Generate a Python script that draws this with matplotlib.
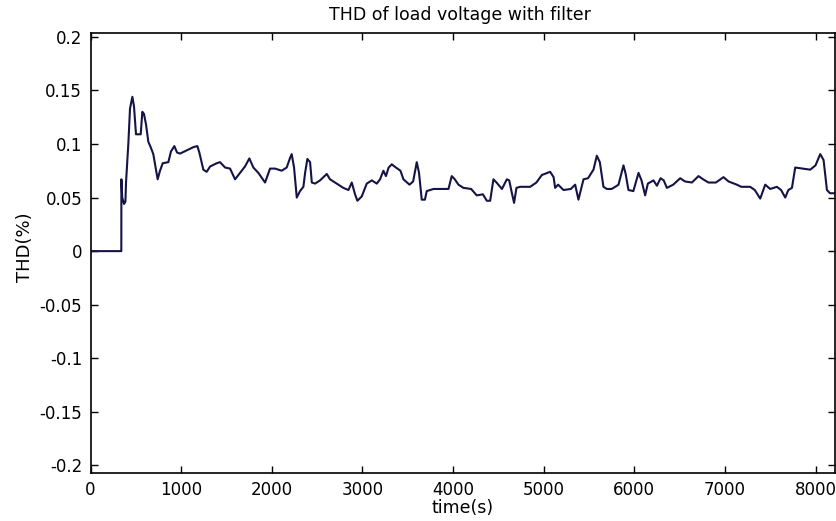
import matplotlib
matplotlib.use("Agg")
import matplotlib.pyplot as plt
from matplotlib.ticker import FormatStrFormatter, FuncFormatter

# ---- data ----
time_s = [0, 340, 341, 350, 370, 385, 392, 418, 436, 462, 480, 502, 554, 572, 590,
          613, 638, 664, 693, 719, 741, 767, 797, 859, 888, 925, 955, 988, 1061, 1135,
          1179, 1201, 1245, 1282, 1320, 1393, 1429, 1485, 1540, 1595, 1650, 1705, 1753,
          1797, 1852, 1926, 1981, 2037, 2110, 2165, 2202, 2220, 2246, 2276, 2312, 2349,
          2368, 2393, 2423, 2442, 2478, 2533, 2607, 2643, 2717, 2790, 2846, 2883, 2919,
          2945, 2993, 3048, 3104, 3159, 3195,
          3232, 3260, 3290, 3324, 3370, 3420, 3453, 3520, 3560, 3600, 3625, 3655, 3690,
          3710, 3784, 3950, 3986, 4020, 4060, 4115, 4200, 4262, 4330, 4373, 4410, 4446,
          4480, 4540, 4594, 4620, 4650, 4674, 4700, 4740, 4851, 4920, 4980, 5072, 5110,
          5127, 5160, 5219, 5300, 5348, 5384, 5440, 5490, 5550, 5587, 5620, 5660,
          5697, 5750, 5790, 5826, 5881, 5905, 5936, 5990, 6047, 6080, 6120, 6150, 6212,
          6250, 6290, 6325, 6360, 6430, 6507, 6560, 6636, 6709, 6760, 6819, 6900, 6985,
          7040, 7132, 7180, 7279, 7330, 7390, 7445, 7500, 7574, 7620, 7666, 7700, 7740,
          7776, 7860, 7942, 8000, 8052, 8089, 8126, 8160, 8210]
thd = [0, 0, 0.067, 0.050, 0.044, 0.046, 0.064, 0.101, 0.133, 0.144, 0.135, 0.109, 0.109,
       0.130, 0.128, 0.118, 0.102, 0.097, 0.0905, 0.078, 0.067, 0.075, 0.082, 0.083,
       0.093, 0.098, 0.092, 0.091, 0.094, 0.097, 0.098, 0.092, 0.076, 0.074, 0.079,
       0.082, 0.083, 0.078, 0.077, 0.067, 0.073, 0.079, 0.0865, 0.078, 0.073, 0.064,
       0.077, 0.077, 0.075, 0.078, 0.087, 0.0905, 0.078, 0.050, 0.056, 0.060, 0.073,
       0.086, 0.083, 0.064, 0.063, 0.066, 0.072, 0.067, 0.063, 0.059, 0.057, 0.064,
       0.053, 0.047, 0.051, 0.063, 0.066, 0.063, 0.067,
       0.075, 0.070, 0.078, 0.081, 0.078, 0.075, 0.067, 0.062, 0.065, 0.083, 0.073,
       0.048, 0.048, 0.056, 0.058, 0.058, 0.070, 0.067, 0.062, 0.059, 0.058, 0.052,
       0.053, 0.047, 0.047, 0.067, 0.064, 0.058, 0.067, 0.066, 0.054, 0.045, 0.059,
       0.060, 0.060, 0.064, 0.071, 0.074, 0.069, 0.059, 0.062, 0.057, 0.058, 0.062,
       0.048, 0.067, 0.068, 0.076, 0.089, 0.083, 0.060,
       0.058, 0.058, 0.060, 0.062, 0.080, 0.072, 0.057, 0.056, 0.073, 0.066, 0.052,
       0.063, 0.066, 0.061, 0.068, 0.066, 0.059, 0.062, 0.068, 0.065, 0.064, 0.070,
       0.067, 0.064, 0.064, 0.069, 0.065, 0.062, 0.060, 0.060, 0.057, 0.049, 0.062,
       0.058, 0.060, 0.057, 0.050, 0.057, 0.059, 0.078, 0.077, 0.076, 0.080, 0.0905,
       0.085, 0.057, 0.054, 0.054]

x_ticks = [0, 1000, 2000, 3000, 4000, 5000, 6000, 7000, 8000]
y_ticks = [-0.2, -0.15, -0.1, -0.05, 0, 0.05, 0.1, 0.15, 0.2]

title_text = "THD of load voltage with filter"
x_label = "time(s)"
y_label = "THD(%)"

plt.rcParams['font.family'] = ['DejaVu Sans']

W, H = 836, 521
fig = plt.figure(figsize=(W / 100, H / 100), dpi=100)
fig.patch.set_facecolor('white')

left, right, top, bottom = 90.5, 835, 33, 473
ax = fig.add_axes([left / W, 1 - bottom / H, (right - left) / W, (bottom - top) / H])

ax.plot(time_s, thd, color='#141446', lw=1.5)

ax.set_xlim(0, 8215)
ax.set_ylim(-0.207, 0.2035)
ax.set_xticks(x_ticks)
ax.set_yticks(y_ticks)
ax.yaxis.set_major_formatter(FuncFormatter(lambda v, p: ('%g' % round(v, 3))))
ax.tick_params(direction='in', length=5, width=1, top=True, right=True,
               labelsize=12, colors='black', pad=6)
for s in ax.spines.values():
    s.set_linewidth(1.2)
    s.set_color('black')

fig.text(460 / W, 1 - 15 / H, title_text, ha='center', va='center', fontsize=12.5)
fig.text(463 / W, 1 - 508 / H, x_label, ha='center', va='center', fontsize=12.5)
fig.text(25 / W, 1 - 247 / H, y_label, ha='center', va='center', rotation=90, fontsize=13)

fig.savefig('out.png', dpi=100)
